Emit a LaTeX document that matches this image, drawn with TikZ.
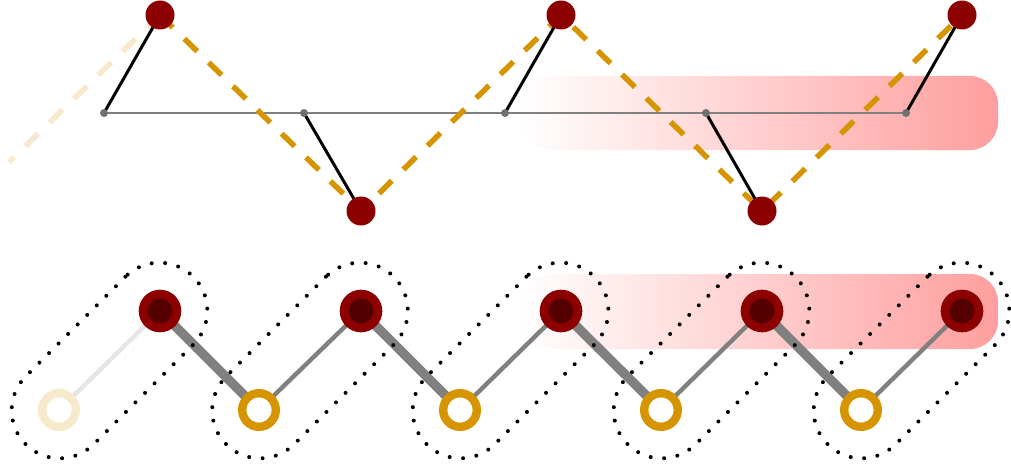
\documentclass[tikz,border=0pt]{standalone}
\usetikzlibrary{backgrounds,calc}
\definecolor{dred}{RGB}{140,0,0}
\definecolor{ddred}{RGB}{85,0,0}
\definecolor{gold}{RGB}{214,148,0}
\definecolor{dotgray}{RGB}{112,112,112}
\pgfdeclarelayer{back}
\pgfsetlayers{back,background,main}
\begin{document}
\begin{tikzpicture}[x=1pt,y=-1pt,
  tdot/.style={circle,fill=dred,minimum size=29,inner sep=0},
  gdot/.style={circle,fill=dotgray,minimum size=8,inner sep=0},
  rnode/.style={circle,fill=ddred,draw=dred,line width=8.8,minimum size=33.8,inner sep=0},
  onode/.style={circle,fill=white,draw=gold,line width=8.4,minimum size=33.6,inner sep=0},
  onodefade/.style={onode,draw=gold!20},
  axisline/.style={gray,line width=1.4},
  arm/.style={black,line width=3},
  zig/.style={gold,line width=5.5,dash pattern=on 18 off 16},
  zigfade/.style={zig,draw=gold!20},
  thick link/.style={gray,line width=9.4},
  thin link/.style={gray,line width=4.4},
  thin fade/.style={thin link,draw=gray!20},
  group/.style={draw,rotate=45,minimum width=237,minimum height=96,rounded corners=48,
    line width=4,line cap=round,dash pattern=on 0 off 13.5},
  bar/.style={left color=white,right color=red!38,rounded corners=28}
]
\useasboundingbox (0,0) rectangle (1011,468);

% gradient bars
\begin{pgfonlayer}{back}
\shade[bar] (520,76) rectangle (998,150);
\shade[bar] (520,274) rectangle (998,349);
\end{pgfonlayer}

% top row
\node[gdot] (g1) at (104,113) {};
\node[gdot] (g2) at (304,113) {};
\node[gdot] (g3) at (505,113) {};
\node[gdot] (g4) at (706,113) {};
\node[gdot] (g5) at (906,113) {};
\node[tdot] (t1) at (160,15) {};
\node[tdot] (t2) at (361,211) {};
\node[tdot] (t3) at (561,15) {};
\node[tdot] (t4) at (762,211) {};
\node[tdot] (t5) at (962,15) {};
\coordinate (tfree) at (9,162);

\begin{pgfonlayer}{background}
\draw[axisline] (g1.center) -- (g5.center);
\draw[zigfade] (t1.center) -- (tfree);
\draw[zig] (t1.center) -- (t2.center) -- (t3.center) -- (t4.center) -- (t5.center);
\draw[arm] (g1.center) -- (t1.center);
\draw[arm] (g2.center) -- (t2.center);
\draw[arm] (g3.center) -- (t3.center);
\draw[arm] (g4.center) -- (t4.center);
\draw[arm] (g5.center) -- (t5.center);
\end{pgfonlayer}

% bottom row
\node[rnode] (r1) at (160,311) {};
\node[rnode] (r2) at (361,311) {};
\node[rnode] (r3) at (561,311) {};
\node[rnode] (r4) at (762,311) {};
\node[rnode] (r5) at (962,311) {};
\node[onodefade] (o1) at (59,410) {};
\node[onode] (o2) at (259,410) {};
\node[onode] (o3) at (460,410) {};
\node[onode] (o4) at (661,410) {};
\node[onode] (o5) at (861,410) {};

\begin{pgfonlayer}{background}
\draw[thin fade] (o1.center) -- (r1.center);
\draw[thin link] (o2.center) -- (r2.center);
\draw[thin link] (o3.center) -- (r3.center);
\draw[thin link] (o4.center) -- (r4.center);
\draw[thin link] (o5.center) -- (r5.center);
\draw[thick link] (r1.center) -- (o2.center);
\draw[thick link] (r2.center) -- (o3.center);
\draw[thick link] (r3.center) -- (o4.center);
\draw[thick link] (r4.center) -- (o5.center);
\end{pgfonlayer}

\foreach \i in {1,...,5}
  \node[group] (b\i) at ($(o\i)!0.5!(r\i)$) {};
\end{tikzpicture}
\end{document}
